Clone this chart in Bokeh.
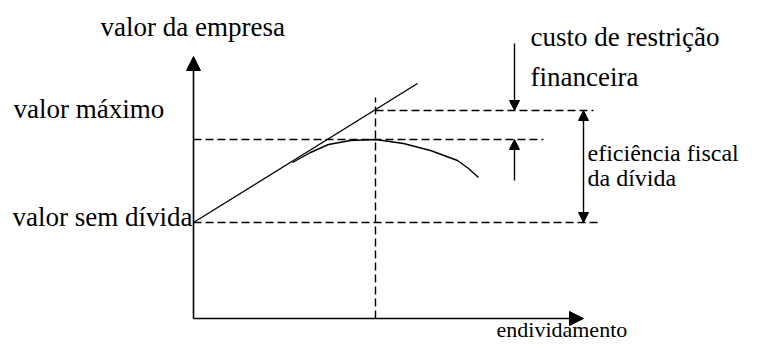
from bokeh.plotting import figure
from bokeh.models import Range1d, Arrow, NormalHead, ColumnDataSource
from bokeh.core.properties import value
from bokeh.embed import file_html
from bokeh.resources import INLINE

# ---- data (debt on x, firm value on y; origin at the axes corner) ----
axis_debt_end = 390
axis_value_end = 262

value_no_debt = 96
value_maximum = 208
value_curve_peak = 179
debt_optimal = 182

no_debt_line_debt = [0, 405]
max_line_debt = [182, 400]
peak_line_debt = [0, 350]
optimal_line_value = [0, 221]

tangent_debt = [0, 224]
tangent_value = [96, 235]

curve_debt = [99, 117, 135, 157, 182, 210, 237, 264, 275, 285]
curve_value = [156, 166, 174, 178, 179, 175, 168, 158, 150, 141]

cost_arrow_debt = 321
cost_arrow_value = [275, 208]
gain_arrow_value = [138, 179]
tax_arrow_debt = 390
tax_arrow_value = [96, 208]

labels = ["valor da empresa", "valor máximo", "valor sem dívida",
          "custo de restrição", "financeira"]
label_debt = [-93, -180, -181, 337, 337]
label_value = [292, 210, 102, 282, 242]

side_labels = ["eficiência fiscal", "da dívida"]
side_debt = [394, 394]
side_value = [166, 141]

x_title = "endividamento"
x_title_debt = 303
x_title_value = -11

# ---- figure ----
p = figure(width=743, height=342, output_backend="svg", toolbar_location=None,
           x_range=Range1d(-193, 550), y_range=Range1d(-24, 318),
           min_border=0)
p.axis.visible = False
p.grid.visible = False
p.outline_line_color = None
p.background_fill_color = "white"
p.border_fill_color = "white"

black = "black"
lw = 1.4
dash = "8 4"
font = value("Liberation Serif, Times New Roman, serif")

# axes with arrow heads
p.add_layout(Arrow(end=NormalHead(size=14, fill_color=black, line_color=black, line_width=1),
                   x_start=0, y_start=0, x_end=0, y_end=axis_value_end,
                   line_width=1.6, line_color=black))
p.add_layout(Arrow(end=NormalHead(size=14, fill_color=black, line_color=black, line_width=1),
                   x_start=0, y_start=0, x_end=axis_debt_end, y_end=0,
                   line_width=1.6, line_color=black))

# dashed reference lines
p.line(no_debt_line_debt, [value_no_debt, value_no_debt], line_color=black,
       line_width=lw, line_dash=dash)
p.line(max_line_debt, [value_maximum, value_maximum], line_color=black,
       line_width=lw, line_dash=dash)
p.line(peak_line_debt, [value_curve_peak, value_curve_peak], line_color=black,
       line_width=lw, line_dash=dash)
p.line([debt_optimal, debt_optimal], optimal_line_value, line_color=black,
       line_width=lw, line_dash=dash)

# tangent line and value curve
p.line(tangent_debt, tangent_value, line_color=black, line_width=lw)
p.line(curve_debt, curve_value, line_color=black, line_width=lw)

# annotation arrows
p.add_layout(Arrow(end=NormalHead(size=10, fill_color=black, line_color=black, line_width=1),
                   x_start=cost_arrow_debt, y_start=cost_arrow_value[0],
                   x_end=cost_arrow_debt, y_end=cost_arrow_value[1],
                   line_width=lw, line_color=black))
p.add_layout(Arrow(end=NormalHead(size=10, fill_color=black, line_color=black, line_width=1),
                   x_start=cost_arrow_debt, y_start=gain_arrow_value[0],
                   x_end=cost_arrow_debt, y_end=gain_arrow_value[1],
                   line_width=lw, line_color=black))
p.add_layout(Arrow(start=NormalHead(size=10, fill_color=black, line_color=black, line_width=1),
                   end=NormalHead(size=10, fill_color=black, line_color=black, line_width=1),
                   x_start=tax_arrow_debt, y_start=tax_arrow_value[0],
                   x_end=tax_arrow_debt, y_end=tax_arrow_value[1],
                   line_width=lw, line_color=black))

# labels
src = ColumnDataSource(dict(x=label_debt, y=label_value, t=labels))
p.text(x="x", y="y", text="t", source=src, text_font=font,
       text_font_size="27px", text_color=black, text_align="left",
       text_baseline="alphabetic")
src2 = ColumnDataSource(dict(x=side_debt, y=side_value, t=side_labels))
p.text(x="x", y="y", text="t", source=src2, text_font=font,
       text_font_size="24px", text_color=black, text_align="left",
       text_baseline="alphabetic")
p.text(x=[x_title_debt], y=[x_title_value], text=[x_title], text_font=font,
       text_font_size="22px", text_color=black, text_align="left",
       text_baseline="alphabetic")

open("out.html", "w").write(file_html(p, INLINE))
